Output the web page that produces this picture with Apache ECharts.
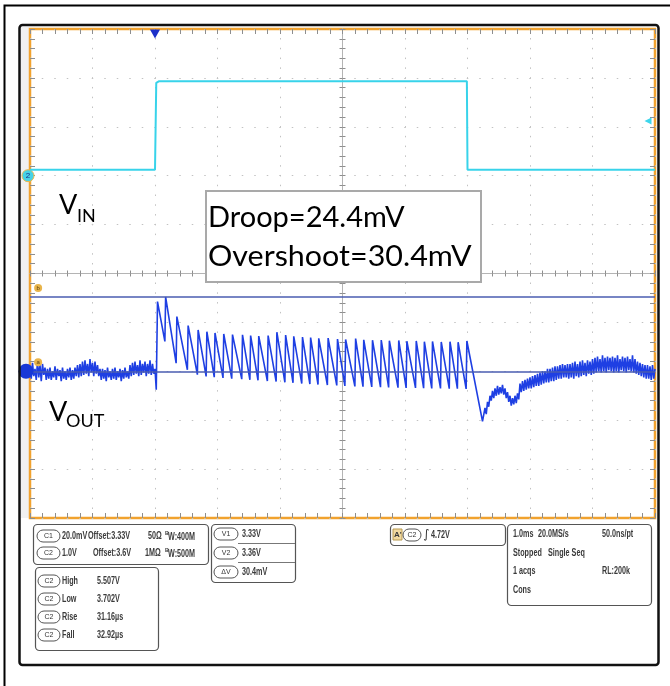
<!DOCTYPE html>
<html>
<head>
<meta charset="utf-8">
<script src="https://cdn.jsdelivr.net/npm/echarts@6/dist/echarts.min.js"></script>
<style>
  html, body { margin: 0; padding: 0; background: #fff; }
  #scope { width: 670px; height: 686px; }
</style>
</head>
<body>
<div id="scope"></div>
<script>
// time in ms (1.0 ms/div), VIN in V (C2, 1 V/div), VOUT in mV (C1, 20 mV/div)
var vinT = [0, 2.0, 2.02, 2.06, 6.99, 7.0, 10]
var vinV = [3.72, 3.72, 5.50, 5.53, 5.53, 3.72, 3.72]

var sampleStep = 0.02
// VOUT before the step, sampled from t = 0
var baseMv = [3332, 3327, 3333.5, 3328, 3331, 3326.5, 3334, 3327.5, 3332.5, 3326, 3333, 3328.5, 3331.5,
  3326.5, 3331, 3327, 3331.5, 3326.5, 3330, 3327.5, 3332, 3326.5, 3331, 3328, 3330.5, 3326, 3331.5,
  3327, 3330, 3326.5, 3331, 3327.5, 3331.5, 3326.5, 3330.5, 3327,
  3331.5, 3328, 3332.5, 3327.5, 3333, 3328,
  3334, 3328.5, 3334.5, 3329, 3333, 3328, 3335, 3329.5, 3333.5, 3328, 3334, 3329, 3332.5,
  3328, 3331,
  3326.5, 3331, 3327, 3330.5, 3326, 3331.5, 3327.5, 3330, 3326.5, 3331, 3327, 3331.5, 3326.5, 3330,
  3327.5, 3331, 3326, 3330.5, 3327, 3331.5, 3327.5, 3330, 3327,
  3332.5, 3328, 3333.5, 3328.5, 3334, 3329, 3332.5, 3328, 3334.5, 3328.5, 3333, 3329.5, 3334, 3328,
  3333, 3329, 3334.5, 3328.5, 3333, 3329, 3331]
var stepDip = [2.02, 3322.5]
// ripple while VIN is high
var riseT = [2.04, 2.17, 2.35, 2.53, 2.69, 2.83, 2.96, 3.10, 3.24, 3.40, 3.53, 3.66,
  3.81, 3.95, 4.09, 4.22, 4.36, 4.49, 4.62, 4.77, 4.92, 5.05, 5.21, 5.34,
  5.48, 5.62, 5.75, 5.90, 6.03, 6.18, 6.31, 6.44, 6.58, 6.72, 6.85, 6.99]
var peakMv = [3358.5, 3360.4, 3352.4, 3348.7, 3346.9, 3346.2, 3345.7, 3345.3, 3345.0, 3344.9, 3344.6, 3344.4,
  3344.6, 3346.0, 3344.8, 3344.3, 3344.0, 3343.8, 3343.5, 3343.6, 3343.2, 3343.0, 3343.4, 3342.9,
  3342.7, 3342.8, 3342.5, 3342.6, 3342.3, 3342.4, 3342.1, 3342.2, 3342.0, 3342.1, 3341.9, 3342.4]
var troughMv = [3342.2, 3333.3, 3330.6, 3328.6, 3327.9, 3327.6, 3327.3, 3327.0, 3326.8, 3326.5, 3326.3, 3326.0,
  3325.8, 3325.5, 3325.3, 3325.0, 3324.8, 3324.6, 3324.4, 3324.2, 3324.0, 3323.8, 3323.7, 3323.6,
  3323.5, 3323.4, 3323.3, 3323.2, 3323.2, 3323.1, 3323.0, 3323.0, 3322.9, 3322.9, 3322.8]
var droopMin = [7.24, 3309.5]
// recovery after VIN falls, sampled from t = 7.28
var recT0 = 7.28
var recMv = [3315, 3312.5, 3317.5, 3315.5, 3320,
  3318, 3322, 3319, 3323, 3320, 3324, 3320.5, 3323.5, 3321, 3324.5,
  3320.5, 3323, 3319, 3321.5, 3317.5, 3320, 3316, 3319,
  3316.5, 3320, 3317, 3321, 3318.5,
  3325, 3321.5, 3326, 3322, 3326.5, 3322.5, 3327, 3323, 3327.5,
  3323, 3328, 3323.5, 3328.5, 3324, 3329, 3324, 3329.5, 3324.5, 3330,
  3325, 3330, 3325.5, 3331, 3325.5, 3331, 3326, 3331.5, 3326, 3332,
  3326.5, 3332, 3327, 3332.5, 3327, 3333, 3327.5, 3332.5, 3327.5, 3333,
  3327, 3333, 3327.5, 3333.5, 3327, 3334, 3328, 3333, 3327.5, 3334,
  3328, 3334.5, 3328.5, 3333.5, 3328, 3334.5, 3329, 3334, 3328.5, 3335,
  3329, 3335.5, 3329.5, 3336, 3330, 3335, 3329.5, 3336.5, 3330, 3335.5, 3329.5, 3336, 3330.5, 3335.5, 3330,
  3336, 3329.5, 3335.5, 3330, 3336.5, 3329.5, 3335, 3330.5, 3336, 3330,
  3335.5, 3329.5, 3336, 3330.5, 3335, 3330, 3336.5, 3329.5, 3335, 3329,
  3334, 3328.5, 3333.5, 3328, 3333, 3327.5, 3332.5, 3327,
  3332.5, 3327, 3332, 3326.5, 3332.5, 3327, 3331]

var cursorMv = [3330, 3360.4]
var trigLevel = 4.72

var vinData = vinT.map(function (t, i) { return [t, vinV[i]] })
var voutData = []
baseMv.forEach(function (v, i) { voutData.push([i * sampleStep, v]) })
voutData.push(stepDip)
riseT.forEach(function (t, i) {
  voutData.push([t, peakMv[i]])
  if (i < troughMv.length) voutData.push([riseT[i + 1] - 0.012, troughMv[i]])
})
voutData.push(droopMin)
recMv.forEach(function (v, i) { voutData.push([recT0 + i * sampleStep, v]) })

var tickGray = { color: '#8e8e8e', width: 1 }
function divAxis(pos, extra) {
  var a = {
    type: 'value', min: -5, max: 5, interval: 1, position: pos,
    axisLine: { show: false, onZero: false },
    axisTick: { show: true, inside: true, length: 5, lineStyle: tickGray },
    minorTick: { show: true, splitNumber: 5, length: 5, lineStyle: tickGray },
    axisLabel: { show: false },
    splitLine: { show: false }
  }
  return Object.assign(a, extra || {})
}
function centerAxis(pos, idx) {
  return divAxis(pos, {
    axisLine: { show: true, onZero: true, onZeroAxisIndex: idx, lineStyle: { color: '#b4b4b4', width: 1 } },
    axisTick: { show: true, inside: true, length: 3, lineStyle: tickGray },
    minorTick: { show: true, splitNumber: 5, length: 3, lineStyle: tickGray }
  })
}

// scope panel text is a narrow bold face: squeeze Liberation Sans horizontally
var panelFont = 'bold 10px "Liberation Sans", Arial, sans-serif'
function txt(x, y, s, font, color, sx) {
  return { type: 'text', z: 50, x: x, y: y, scaleX: sx == null ? 0.72 : sx,
    style: { x: 0, y: 0, text: s, font: font || panelFont, fill: color || '#3a3a3a',
      textAlign: 'left', align: 'left', textVerticalAlign: 'middle', verticalAlign: 'middle' } }
}
function pill(x, y, w, s) {
  return [
    { type: 'rect', z: 50, shape: { x: x, y: y, width: w, height: 12, r: 6 }, style: { fill: '#fff', stroke: '#555', lineWidth: 1 } },
    { type: 'text', z: 51, style: { x: x + w / 2, y: y + 6, text: s, font: '7px "Liberation Sans", sans-serif', fill: '#333',
      textAlign: 'center', align: 'center', textVerticalAlign: 'middle', verticalAlign: 'middle' } }
  ]
}
function box(x, y, w, h) {
  return { type: 'rect', z: 49, shape: { x: x, y: y, width: w, height: h, r: 4 }, style: { fill: '#fff', stroke: '#555', lineWidth: 1.2 } }
}
function hline(x1, x2, y) {
  return { type: 'line', z: 50, shape: { x1: x1, y1: y, x2: x2, y2: y }, style: { stroke: '#777', lineWidth: 1 } }
}

var smallB = 'bold 6px "Liberation Sans", sans-serif'
var panel = []
// channel settings
panel.push(box(33.5, 524.5, 175, 40))
panel = panel.concat(pill(37, 530, 23, 'C1'), pill(37, 547, 23, 'C2'))
panel.push(txt(62, 536, '20.0mV'), txt(88, 536, 'Offset:3.33V'), txt(148, 536, '50Ω'),
  txt(165, 533, 'B', smallB, null, 0.9), txt(168, 537, 'W:400M'))
panel.push(txt(62, 553, '1.0V'), txt(93, 553, 'Offset:3.6V'), txt(145, 553, '1MΩ'),
  txt(165, 550, 'B', smallB, null, 0.9), txt(168, 554, 'W:500M'))
// measurements
panel.push(box(35.5, 567.5, 123, 83))
var measName = ['High', 'Low', 'Rise', 'Fall']
var measVal = ['5.507V', '3.702V', '31.16µs', '32.92µs']
measName.forEach(function (n, i) {
  var y = 581 + i * 18
  panel = panel.concat(pill(38, y - 6, 22, 'C2'))
  panel.push(txt(62, y, n), txt(97, y, measVal[i]))
})
// cursors
panel.push(box(211.5, 524.5, 84, 58))
panel.push(hline(238, 295, 543.5), hline(238, 295, 562.5))
var curName = ['V1', 'V2', 'ΔV']
var curVal = ['3.33V', '3.36V', '30.4mV']
curName.forEach(function (n, i) {
  var y = 534 + i * 19
  panel = panel.concat(pill(214, y - 6, 24, n))
  panel.push(txt(242, y, curVal[i]))
})
// trigger
panel.push(box(390.5, 524.5, 115, 21))
panel.push({ type: 'rect', z: 50, shape: { x: 393, y: 529, width: 9, height: 11 }, style: { fill: '#f1d9a0', stroke: '#b89a50', lineWidth: 1 } })
panel.push(txt(394, 535, "A'", 'bold 8px "Liberation Sans", sans-serif', null, 1))
panel = panel.concat(pill(403, 529, 18, 'C2'))
panel.push(txt(423, 535, '∫', '12px "DejaVu Sans", sans-serif', '#333', 1), txt(431, 535, '4.72V'))
// acquisition
panel.push(box(507.5, 524.5, 144, 81))
panel.push(txt(513, 534, '1.0ms'), txt(538, 534, '20.0MS/s'), txt(602, 534, '50.0ns/pt'),
  txt(513, 553, 'Stopped'), txt(548, 553, 'Single Seq'),
  txt(513, 571, '1 acqs'), txt(602, 571, 'RL:200k'),
  txt(513, 590, 'Cons'))

var labelFont = '"Lato", "Open Sans", sans-serif'
var graphics = [
  { type: 'polyline', z: 60, shape: { points: [[4.5, 686], [4.5, 5.5], [670, 5.5]] }, style: { stroke: '#000', lineWidth: 2, fill: null } },
  { type: 'rect', z: 60, shape: { x: 19.5, y: 25, width: 639, height: 640, r: 3 }, style: { stroke: '#111', lineWidth: 2.5, fill: null } },
  { type: 'rect', z: -1, shape: { x: 21, y: 27, width: 8, height: 491 }, style: { fill: '#f1f1f1' } },
  // annotation box
  { type: 'rect', z: 40, shape: { x: 206, y: 191, width: 275, height: 91 }, style: { fill: '#fff', stroke: '#a9a9a9', lineWidth: 2 } },
  txt(208, 218, 'Droop=24.4mV', '29px ' + labelFont, '#000', 1),
  txt(208, 257, 'Overshoot=30.4mV', '29px ' + labelFont, '#000', 1.05),
  txt(59, 205, 'V', '27px ' + labelFont, '#000', 1),
  txt(77, 216, 'IN', '18px ' + labelFont, '#000', 1),
  txt(49, 412, 'V', '27px ' + labelFont, '#000', 1),
  txt(66, 421, 'OUT', '18px ' + labelFont, '#000', 1)
].concat(panel)

var chart = echarts.init(document.getElementById('scope'))
chart.setOption({
  animation: false,
  backgroundColor: '#fff',
  grid: { left: 30, top: 29, width: 625, height: 489, show: true, borderColor: '#f1a22e', borderWidth: 2.5, backgroundColor: '#fff' },
  xAxis: [
    { type: 'value', min: 0, max: 10, show: false },
    divAxis('bottom', { splitLine: { show: true, lineStyle: { color: '#c2c2c2', width: 1, type: [1.5, 8.28], dashOffset: 0.75 } } }),
    divAxis('top'),
    centerAxis('bottom', 2),
    centerAxis('top', 2)
  ],
  yAxis: [
    { type: 'value', min: -3.4, max: 6.6, show: false },
    { type: 'value', min: 3270, max: 3470, show: false },
    divAxis('left', { splitLine: { show: true, lineStyle: { color: '#c2c2c2', width: 1, type: [1.5, 11], dashOffset: 0.75 } } }),
    divAxis('right'),
    centerAxis('left', 1),
    centerAxis('right', 1)
  ],
  graphic: { elements: graphics },
  series: [
    {
      name: 'VIN', type: 'line', xAxisIndex: 0, yAxisIndex: 0, data: vinData,
      showSymbol: false, symbol: 'none', z: 5,
      lineStyle: { color: '#38d3ea', width: 2 },
      markPoint: {
        silent: true, label: { show: false },
        data: [
          { coord: [2.0, 6.6], symbol: 'triangle', symbolRotate: 180, symbolSize: [10, 9], symbolOffset: [0, 5], itemStyle: { color: '#1b2fc9' } },
          { coord: [10, trigLevel], symbol: 'triangle', symbolRotate: 90, symbolSize: [7, 7], symbolOffset: [-7, 0], itemStyle: { color: '#3dd6ec' } },
          { coord: [0, 3.6], symbol: 'circle', symbolSize: 12, symbolOffset: [-2, 0], itemStyle: { color: '#46d2e6', borderColor: '#e8b84a', borderWidth: 1 },
            label: { show: true, position: 'inside', formatter: '2', fontSize: 8, color: '#1a2d8a' } }
        ]
      }
    },
    {
      name: 'VOUT', type: 'line', xAxisIndex: 0, yAxisIndex: 1, data: voutData,
      showSymbol: false, symbol: 'none', z: 4,
      lineStyle: { color: '#1e3fe3', width: 1.6 },
      markLine: {
        silent: true, symbol: 'none', label: { show: false },
        lineStyle: { color: '#4a5cb0', width: 1.5, type: 'solid' },
        data: cursorMv.map(function (v) { return { yAxis: v } })
      },
      markPoint: {
        silent: true, label: { show: false },
        data: [
          { coord: [0, cursorMv[0]], symbol: 'circle', symbolSize: 15, symbolOffset: [-4, 0], itemStyle: { color: '#1838d6' } },
          { coord: [0.13, cursorMv[1]], symbol: 'circle', symbolSize: 8, symbolOffset: [0, -9], itemStyle: { color: '#e8b44a' },
            label: { show: true, position: 'inside', formatter: 'b', fontSize: 6, color: '#5a4010' } },
          { coord: [0.13, cursorMv[0]], symbol: 'circle', symbolSize: 8, symbolOffset: [0, -9], itemStyle: { color: '#e8b44a' },
            label: { show: true, position: 'inside', formatter: 'a', fontSize: 6, color: '#5a4010' } }
        ]
      }
    }
  ]
})
</script>
</body>
</html>
